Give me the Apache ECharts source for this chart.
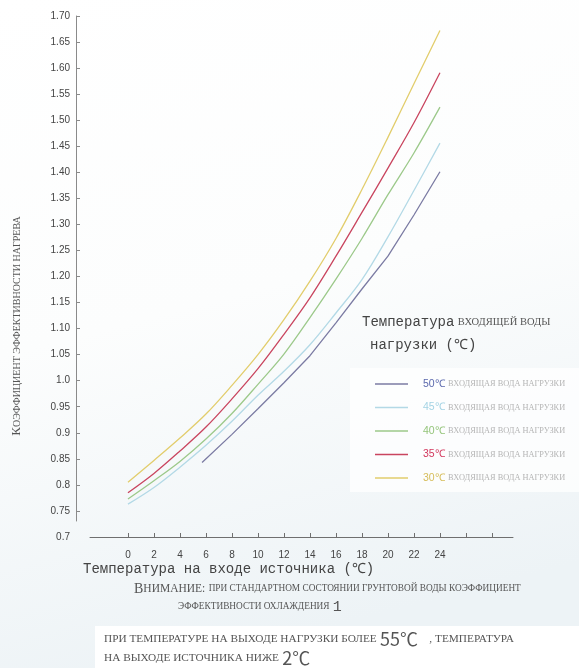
<!DOCTYPE html>
<html><head><meta charset="utf-8">
<script src="https://cdn.jsdelivr.net/npm/echarts@6/dist/echarts.min.js"></script>
<style>html,body{margin:0;padding:0;background:#fff}#c{width:579px;height:668px}</style>
</head><body><div id="c"></div>
<script>
// ---- data ----
const temps = [0, 2, 4, 6, 8, 10, 12, 14, 16, 18, 20, 22, 24];
const s30 = [0.805, 0.847, 0.890, 0.936, 0.991, 1.050, 1.117, 1.191, 1.273, 1.367, 1.467, 1.570, 1.672];
const s35 = [0.785, 0.822, 0.865, 0.911, 0.965, 1.023, 1.089, 1.159, 1.239, 1.323, 1.408, 1.495, 1.591];
const s40 = [0.773, 0.808, 0.845, 0.888, 0.937, 0.993, 1.051, 1.121, 1.195, 1.273, 1.357, 1.437, 1.525];
const s45 = [0.763, 0.795, 0.834, 0.876, 0.922, 0.972, 1.018, 1.069, 1.130, 1.194, 1.276, 1.365, 1.456];
const temps50 = [5.7, 8, 10, 12, 14, 16, 18, 20, 22, 24];
const s50 = [0.843, 0.897, 0.946, 0.996, 1.048, 1.111, 1.176, 1.239, 1.318, 1.401];

const seriesNames = ['50℃', '45℃', '40℃', '35℃', '30℃'];
const legendSuffix = 'ВХОДЯЩАЯ ВОДА НАГРУЗКИ';

const xTicks = [0, 2, 4, 6, 8, 10, 12, 14, 16, 18, 20, 22, 24, 26, 28];
const xTickLabels = [0, 2, 4, 6, 8, 10, 12, 14, 16, 18, 20, 22, 24];

const yTicks = [0.7, 0.75, 0.8, 0.85, 0.9, 0.95, 1.0, 1.05, 1.1, 1.15, 1.2, 1.25, 1.3, 1.35, 1.4, 1.45, 1.5, 1.55, 1.6, 1.65, 1.7];
const yTickLabels = ['0.7', '0.75', '0.8', '0.85', '0.9', '0.95', '1.0', '1.05', '1.10', '1.15', '1.20', '1.25', '1.30', '1.35', '1.40', '1.45', '1.50', '1.55', '1.60', '1.65', '1.70'];
const yLineTicks = [0.75, 0.8, 0.85, 0.9, 0.95, 1.0, 1.05, 1.1, 1.15, 1.2, 1.25, 1.3, 1.35, 1.4, 1.45, 1.5, 1.55, 1.6, 1.65, 1.7];

// ---- styles ----
const lineColors = ['#7b7ba3', '#b3d9e6', '#9cc98a', '#c9455f', '#e2cd6c'];
const labelColors = ['#5b69ad', '#a3d3e4', '#94c47a', '#d2365c', '#d6bd5a'];
const MONO = '"Liberation Mono","DejaVu Sans Mono",monospace';
const SERIF = '"Liberation Serif","DejaVu Serif",serif';
const SANS = '"Liberation Sans",Arial,sans-serif';
const CJK = '"Noto Sans CJK SC","Noto Sans",sans-serif';

const pairs = (xs, ys) => xs.map((x, i) => [x, ys[i]]);
const seriesData = [pairs(temps50, s50), pairs(temps, s45), pairs(temps, s40), pairs(temps, s35), pairs(temps, s30)];

const richLegend = { p: { width: 10 }, s: { fontSize: 8.3, fontFamily: SERIF, color: '#b4b4b4' } };
labelColors.forEach((c, i) => { richLegend['c' + i] = { fontSize: 10.5, fontFamily: SANS, color: c }; });

const chart = echarts.init(document.getElementById('c'), null, { renderer: 'canvas' });
chart.setOption({
  animation: false,
  backgroundColor: {
    type: 'linear', x: 0, y: 0, x2: 0.3, y2: 1,
    colorStops: [{ offset: 0, color: '#ffffff' }, { offset: 0.5, color: '#fcfdfd' }, { offset: 1, color: '#edf3f6' }]
  },
  grid: [
    { left: 90, right: 66, top: 16, bottom: 131 },
    { left: 76, width: 10, top: 16, bottom: 147 }
  ],
  xAxis: [
    {
      type: 'value', gridIndex: 0, min: -2.92, max: 29.62,
      axisLine: { show: true, lineStyle: { color: '#6f6f6f', width: 1 } },
      axisTick: { show: true, inside: true, length: 4, customValues: xTicks, lineStyle: { color: '#6f6f6f' } },
      axisLabel: { show: true, customValues: xTickLabels, margin: 13, fontSize: 10, fontFamily: SANS, color: '#444' },
      splitLine: { show: false }
    },
    { type: 'value', gridIndex: 1, show: false, min: 0, max: 1 }
  ],
  yAxis: [
    {
      type: 'value', gridIndex: 0, min: 0.7, max: 1.7, interval: 0.05,
      axisLine: { show: false }, axisTick: { show: false }, splitLine: { show: false },
      axisLabel: {
        show: true, margin: 20, fontSize: 10, fontFamily: SANS, color: '#444',
        formatter: v => yTickLabels[Math.round((v - 0.7) / 0.05)] || ''
      }
    },
    {
      type: 'value', gridIndex: 1, min: 0.7307, max: 1.7,
      axisLine: { show: true, lineStyle: { color: '#8a8a8a', width: 1 } },
      axisTick: { show: true, inside: true, length: 4, customValues: yLineTicks, lineStyle: { color: '#8a8a8a' } },
      axisLabel: { show: false }, splitLine: { show: false }
    }
  ],
  legend: {
    orient: 'vertical', left: 375, top: 377, padding: 0, itemWidth: 33, itemHeight: 1.5, itemGap: 9.5,
    icon: 'rect', data: seriesNames,
    textStyle: { rich: richLegend, lineHeight: 14 },
    formatter: name => {
      const i = seriesNames.indexOf(name);
      return '{p|}{c' + i + '|' + name + '} {s|' + legendSuffix + '}';
    }
  },
  series: seriesNames.map((n, i) => ({
    name: n, type: 'line', xAxisIndex: 0, yAxisIndex: 0,
    data: seriesData[i], smooth: i === 0 ? false : 0.35, showSymbol: false, symbol: 'none',
    lineStyle: { color: lineColors[i], width: 1.3 }, itemStyle: { color: lineColors[i] }, z: 5
  })),
  graphic: [
    { type: 'rect', shape: { x: 350, y: 368, width: 229, height: 124 }, style: { fill: 'rgba(255,255,255,0.75)' }, z: -1, silent: true },
    { type: 'rect', shape: { x: 95, y: 626, width: 484, height: 42 }, style: { fill: '#ffffff' }, z: -1, silent: true },
    {
      type: 'text', x: 17, y: 326, rotation: Math.PI / 2, silent: true,
      style: {
        text: '{a|К}{b|ОЭФФИЦИЕНТ ЭФФЕКТИВНОСТИ НАГРЕВА}', align: 'center', verticalAlign: 'middle',
        rich: { a: { fontSize: 13, fontFamily: SERIF, fill: '#555' }, b: { fontSize: 10, fontFamily: SERIF, fill: '#555' } }
      }
    },
    {
      type: 'text', x: 83, y: 569, silent: true,
      style: { text: 'Температура на входе источника (℃)', font: '14px ' + MONO, fill: '#444', verticalAlign: 'middle' }
    },
    {
      type: 'text', x: 362, y: 322, silent: true,
      style: {
        text: '{m|Температура} {s|ВХОДЯЩЕЙ ВОДЫ}', verticalAlign: 'middle',
        rich: { m: { fontSize: 14, fontFamily: MONO, fill: '#444' }, s: { fontSize: 10.5, fontFamily: SERIF, fill: '#555' } }
      }
    },
    {
      type: 'text', x: 370, y: 345, silent: true,
      style: { text: 'нагрузки (℃)', font: '14px ' + MONO, fill: '#444', verticalAlign: 'middle' }
    },
    {
      type: 'text', x: 134, y: 589, silent: true,
      style: {
        text: '{a|В}{b|НИМАНИЕ:} {c|ПРИ СТАНДАРТНОМ СОСТОЯНИИ ГРУНТОВОЙ ВОДЫ КОЭФФИЦИЕНТ}', verticalAlign: 'middle',
        rich: {
          a: { fontSize: 14, fontFamily: SERIF, fill: '#555' },
          b: { fontSize: 11.5, fontFamily: SERIF, fill: '#555' },
          c: { fontSize: 9.3, fontFamily: SERIF, fill: '#555' }
        }
      }
    },
    {
      type: 'text', x: 178, y: 607, silent: true,
      style: {
        text: '{c|ЭФФЕКТИВНОСТИ ОХЛАЖДЕНИЯ} {n|1}', verticalAlign: 'middle',
        rich: { c: { fontSize: 9.3, fontFamily: SERIF, fill: '#555' }, n: { fontSize: 15, fontFamily: MONO, fill: '#555' } }
      }
    },
    {
      type: 'text', x: 104, y: 639, silent: true,
      style: {
        text: '{c|ПРИ ТЕМПЕРАТУРЕ НА ВЫХОДЕ НАГРУЗКИ БОЛЕЕ} {n|55℃} {g|}{c|, ТЕМПЕРАТУРА}', verticalAlign: 'middle',
        rich: { c: { fontSize: 11.3, fontFamily: SERIF, fill: '#555' }, n: { fontSize: 18, fontFamily: CJK, fill: '#555' }, g: { width: 8 } }
      }
    },
    {
      type: 'text', x: 104, y: 658, silent: true,
      style: {
        text: '{c|НА ВЫХОДЕ ИСТОЧНИКА НИЖЕ} {n|2℃}', verticalAlign: 'middle',
        rich: { c: { fontSize: 11.3, fontFamily: SERIF, fill: '#555' }, n: { fontSize: 18, fontFamily: CJK, fill: '#555' } }
      }
    }
  ]
});
</script>
</body></html>
